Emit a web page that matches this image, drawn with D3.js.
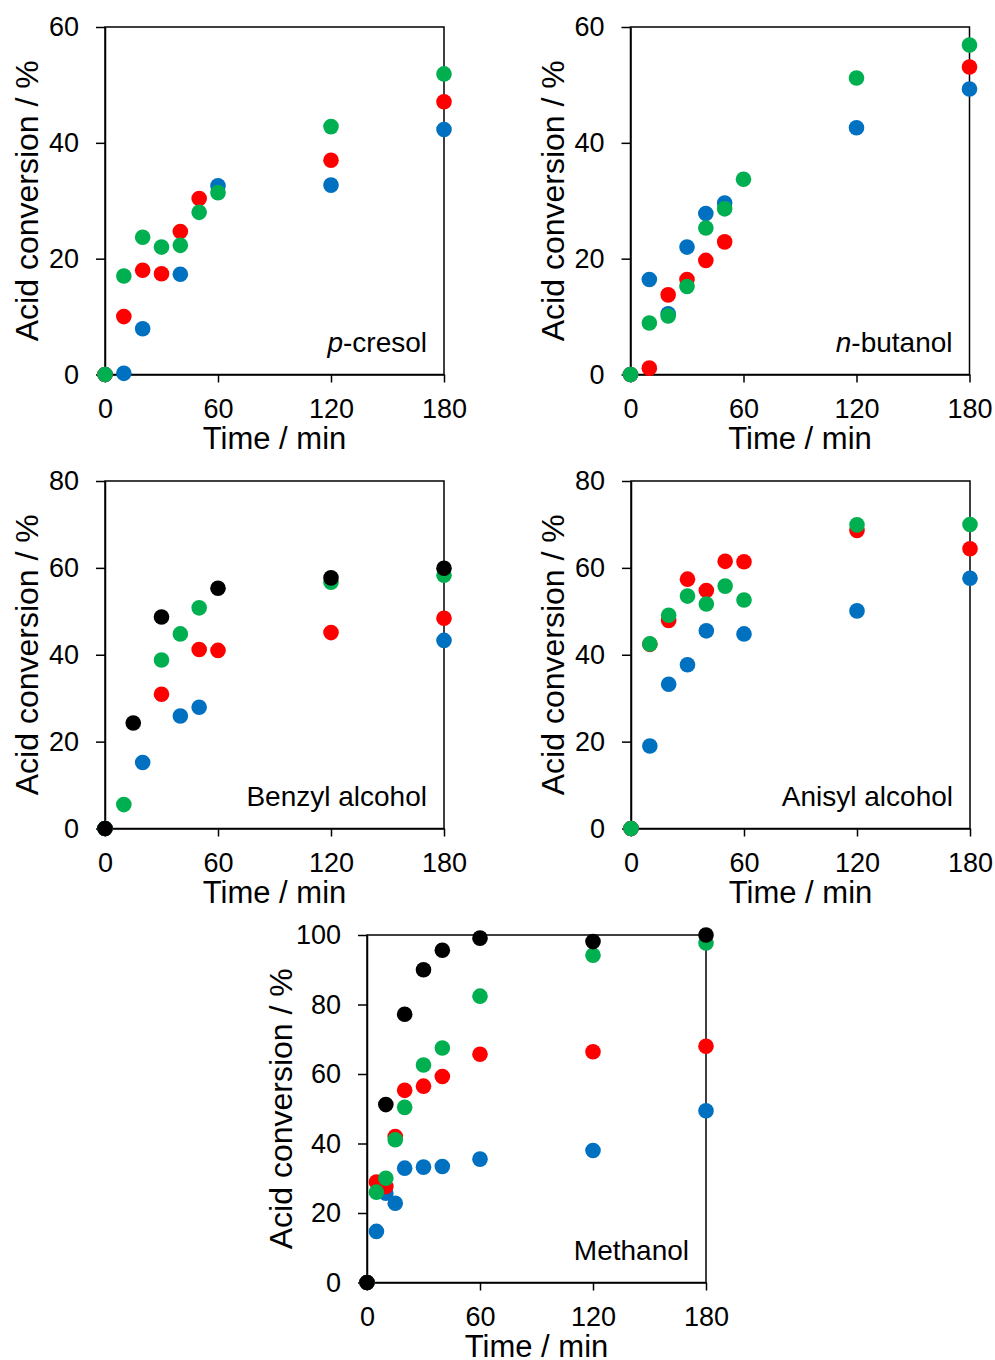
<!DOCTYPE html>
<html>
<head>
<meta charset="utf-8">
<script src="https://cdn.jsdelivr.net/npm/d3@7"></script>
<style>
  body { margin: 0; background: #fff; }
  svg text { font-family: "Liberation Sans", Arial, sans-serif; fill: #000; }
  .axis path, .axis line, .frame { stroke: #000; stroke-width: 1.5; fill: none; }
</style>
</head>
<body>
<svg width="995" height="1360"></svg>
<script>
// time values on x, in minutes
var xTicks = [0, 60, 120, 180];

// [time, conversion %]
var cresolBlue  = [[0, 0], [10, 0.2], [20, 7.9], [40, 17.3], [60, 32.6], [120, 32.7], [180, 42.3]];
var cresolRed   = [[0, 0], [10, 10], [20, 18], [30, 17.4], [40, 24.7], [50, 30.4], [120, 37], [180, 47.1]];
var cresolGreen = [[0, 0], [10, 17], [20, 23.7], [30, 22], [40, 22.3], [50, 28], [60, 31.4], [120, 42.8], [180, 51.9]];

var butanolBlue  = [[0, 0], [10, 16.4], [20, 10.5], [30, 22], [40, 27.8], [50, 29.6], [120, 42.6], [180, 49.3]];
var butanolRed   = [[0, 0], [10, 1.1], [20, 13.75], [30, 16.4], [40, 19.7], [50, 22.9], [180, 53.1]];
var butanolGreen = [[0, 0], [10, 8.9], [20, 10.1], [30, 15.2], [40, 25.3], [50, 28.6], [60, 33.7], [120, 51.2], [180, 56.9]];

var benzylBlue  = [[0, 0], [20, 15.2], [40, 25.9], [50, 27.9], [180, 43.3]];
var benzylRed   = [[0, 0], [30, 30.9], [50, 41.2], [60, 41], [120, 45.1], [180, 48.4]];
var benzylGreen = [[0, 0], [10, 5.5], [30, 38.8], [40, 44.8], [50, 50.8], [120, 56.7], [180, 58.3]];
var benzylBlack = [[0, 0], [15, 24.3], [30, 48.7], [60, 55.3], [120, 57.7], [180, 59.9]];

var anisylBlue  = [[0, 0], [10, 19], [20, 33.2], [30, 37.7], [40, 45.5], [60, 44.8], [120, 50.1], [180, 57.6]];
var anisylRed   = [[0, 0], [10, 42.4], [20, 47.9], [30, 57.4], [40, 54.8], [50, 61.5], [60, 61.4], [120, 68.6], [180, 64.4]];
var anisylGreen = [[0, 0], [10, 42.5], [20, 49.1], [30, 53.5], [40, 51.7], [50, 55.8], [60, 52.6], [120, 69.9], [180, 70]];

var methanolBlue  = [[0, 0], [5, 14.7], [10, 25.7], [15, 22.8], [20, 32.9], [30, 33.2], [40, 33.4], [60, 35.5], [120, 38], [180, 49.4]];
var methanolRed   = [[0, 0], [5, 28.9], [10, 27.6], [15, 42], [20, 55.3], [30, 56.5], [40, 59.3], [60, 65.7], [120, 66.4], [180, 68]];
var methanolGreen = [[0, 0], [5, 26], [10, 30], [15, 41.1], [20, 50.4], [30, 62.6], [40, 67.5], [60, 82.4], [120, 94.2], [180, 97.7]];
var methanolBlack = [[0, 0], [10, 51.2], [20, 77.2], [30, 90], [40, 95.6], [60, 99.1], [120, 98.1], [180, 100]];

var colors = { blue: "#0070C0", red: "#FF0000", green: "#00B050", black: "#000000" };

var panels = [
  { left: 105, top: 27,  ymax: 60,  prefix: "p", name: "-cresol", titleOff: 67,
    series: [[cresolBlue, "blue"], [cresolRed, "red"], [cresolGreen, "green"]] },
  { left: 630.5, top: 27, ymax: 60, prefix: "n", name: "-butanol", titleOff: 67,
    series: [[butanolBlue, "blue"], [butanolRed, "red"], [butanolGreen, "green"]] },
  { left: 105, top: 481, ymax: 80, prefix: "", name: "Benzyl alcohol", titleOff: 67,
    series: [[benzylBlue, "blue"], [benzylRed, "red"], [benzylGreen, "green"], [benzylBlack, "black"]] },
  { left: 631, top: 481, ymax: 80, prefix: "", name: "Anisyl alcohol", titleOff: 67,
    series: [[anisylBlue, "blue"], [anisylRed, "red"], [anisylGreen, "green"]] },
  { left: 367, top: 935, ymax: 100, prefix: "", name: "Methanol", titleOff: 75,
    series: [[methanolBlue, "blue"], [methanolRed, "red"], [methanolGreen, "green"], [methanolBlack, "black"]] }
];

var w = 339, h = 347.5;
var svg = d3.select("svg");

panels.forEach(function(p) {
  var g = svg.append("g").attr("transform", "translate(" + p.left + "," + p.top + ")");

  var x = d3.scaleLinear().domain([0, 180]).range([0, w]);
  var y = d3.scaleLinear().domain([0, p.ymax]).range([h, 0]);

  // box round the plot
  g.append("rect").attr("class", "frame")
      .attr("x", 0).attr("y", 0).attr("width", w).attr("height", h);

  g.append("g").attr("class", "axis")
      .attr("transform", "translate(0," + h + ")")
      .call(d3.axisBottom(x).tickValues(xTicks).tickSize(8).tickSizeOuter(0).tickPadding(16))
      .selectAll("text").style("font-size", "27px");

  g.append("g").attr("class", "axis")
      .call(d3.axisLeft(y).tickValues(d3.range(0, p.ymax + 1, 20)).tickSize(9).tickSizeOuter(0).tickPadding(17))
      .selectAll("text").style("font-size", "27px");

  g.selectAll(".axis text").attr("fill", "#000");

  g.append("text")
      .attr("x", w / 2).attr("y", h + 74)
      .attr("text-anchor", "middle")
      .style("font-size", "31px")
      .text("Time / min");

  g.append("text")
      .attr("transform", "translate(" + (-p.titleOff) + "," + (h / 2) + ") rotate(-90)")
      .attr("text-anchor", "middle")
      .style("font-size", "32px")
      .text("Acid conversion / %");

  var lab = g.append("text")
      .attr("x", w - 17).attr("y", h - 23)
      .attr("text-anchor", "end")
      .style("font-size", "28px");
  if (p.prefix) lab.append("tspan").style("font-style", "italic").text(p.prefix);
  lab.append("tspan").text(p.name);

  p.series.forEach(function(s) {
    g.append("g").selectAll("circle")
      .data(s[0])
      .enter().append("circle")
        .attr("cx", function(d) { return x(d[0]); })
        .attr("cy", function(d) { return y(d[1]); })
        .attr("r", 7.8)
        .attr("fill", colors[s[1]]);
  });
});
</script>
</body>
</html>
